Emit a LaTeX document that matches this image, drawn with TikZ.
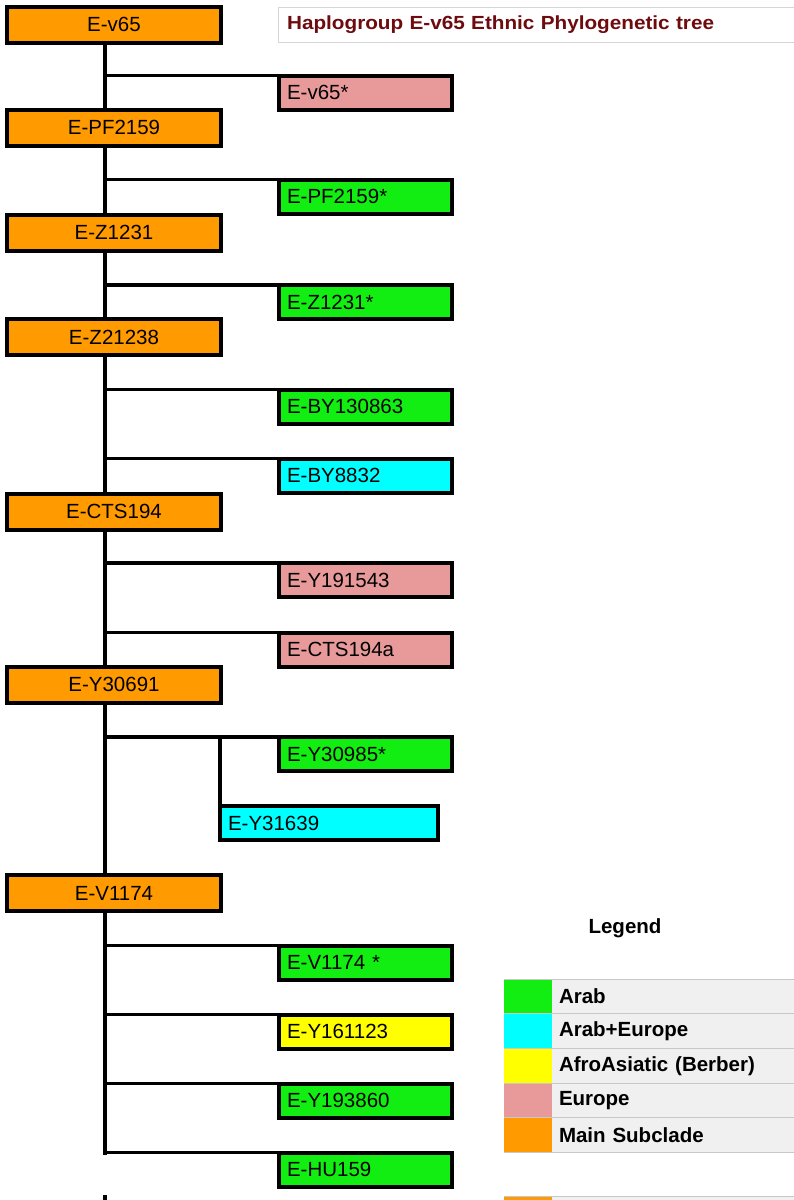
\documentclass[tikz,border=0pt]{standalone}
\usepackage{fontspec}
\setmainfont{Liberation Sans}
\newfontfamily\titlefont[FakeStretch=1.09]{Liberation Sans}
\usepackage{xcolor}
\usepackage{tikz}
\usetikzlibrary{positioning}
\definecolor{subclade}{HTML}{FF9A00}
\definecolor{arab}{HTML}{12EE12}
\definecolor{arabeurope}{HTML}{00FFFF}
\definecolor{berber}{HTML}{FFFF00}
\definecolor{europe}{HTML}{E89A9A}
\definecolor{titlered}{HTML}{6E0B0E}
\definecolor{titleborder}{HTML}{D6D6D6}
\definecolor{legendrow}{HTML}{F0F0F0}
\definecolor{legendline}{HTML}{C8C8C8}
\tikzset{
    mainclade/.style={
        draw=black, fill=subclade, line width=4pt, outer sep=0pt, inner sep=0pt,
        minimum width=214pt, minimum height=36pt,
        font=\fontsize{20.5}{24}\selectfont
    },
    leafclade/.style={
        draw=black, line width=4pt, outer sep=0pt, inner xsep=8pt, inner ysep=0pt,
        text width=157pt, minimum height=34pt, align=left,
        font=\fontsize{20.5}{24}\selectfont
    },
    titlebox/.style={
        draw=titleborder, fill=white, line width=1.2pt, anchor=west,
        minimum height=35pt, text width=520pt, inner xsep=8.5pt, align=left,
        text=titlered, font=\titlefont\bfseries\fontsize{19}{22}\selectfont
    },
    keybox/.style={minimum width=48pt, minimum height=34.6pt, inner sep=0pt, outer sep=0pt},
    keylabel/.style={
        fill=legendrow, minimum height=34.6pt, text width=236pt, inner xsep=7pt,
        inner ysep=0pt, outer sep=0pt, align=left,
        font=\fontsize{20.5}{24}\selectfont\bfseries
    },
    trunkline/.style={line width=4pt, line cap=rect, black},
    branchline/.style={line width=3.2pt, black},
    rowline/.style={line width=1pt, legendline},
}

\begin{document}
\begin{tikzpicture}[x=1pt, y=-1pt]
    \clip (0,0) rectangle (794,1200);
    \fill[white] (0,0) rectangle (794,1200);
    \node[titlebox] (title) at (278,25) {Haplogroup E-v65 Ethnic Phylogenetic tree};

    \node[mainclade] (v65) at (114,24.5) {E-v65};
    \node[mainclade] (pf2159) at (114,127.5) {E-PF2159};
    \node[mainclade] (z1231) at (114,232.5) {E-Z1231};
    \node[mainclade] (z21238) at (114,337) {E-Z21238};
    \node[mainclade] (cts194) at (114,511.5) {E-CTS194};
    \node[mainclade] (y30691) at (114,684.5) {E-Y30691};
    \node[mainclade] (v1174) at (114,893) {E-V1174};

    \node[leafclade, fill=europe] (v65x) at (365.5,92.5) {E-v65*};
    \node[leafclade, fill=arab] (pf2159x) at (365.5,196.5) {E-PF2159*};
    \node[leafclade, fill=arab] (z1231x) at (365.5,302) {E-Z1231*};
    \node[leafclade, fill=arab] (by130863) at (365.5,406.5) {E-BY130863};
    \node[leafclade, fill=arabeurope] (by8832) at (365.5,475.5) {E-BY8832};
    \node[leafclade, fill=europe] (y191543) at (365.5,580) {E-Y191543};
    \node[leafclade, fill=europe] (cts194a) at (365.5,649.5) {E-CTS194a};
    \node[leafclade, fill=arab] (y30985x) at (365.5,754) {E-Y30985*};
    \node[leafclade, fill=arabeurope, text width=202pt] (y31639) at (329,823) {E-Y31639};
    \node[leafclade, fill=arab] (v1174x) at (365.5,962.5) {E-V1174 *};
    \node[leafclade, fill=berber] (y161123) at (365.5,1031.5) {E-Y161123};
    \node[leafclade, fill=arab] (y193860) at (365.5,1100.5) {E-Y193860};
    \node[leafclade, fill=arab] (hu159) at (365.5,1169.5) {E-HU159};

    \coordinate (stem) at (105,0);
    \foreach \a/\b in {v65/pf2159, pf2159/z1231, z1231/z21238, z21238/cts194, cts194/y30691, y30691/v1174}
        \draw[trunkline] (stem |- \a.south) -- (stem |- \b.north);
    \draw[trunkline] (stem |- v1174.south) -- (stem |- hu159.north west);
    \foreach \n in {v65x, pf2159x, z1231x, by130863, by8832, y191543, cts194a, y30985x, v1174x, y161123, y193860, hu159}
        \draw[branchline] (stem |- \n.north west) -- (\n.north west);
    \draw[trunkline] (y30985x.north west -| y31639.north west) -- (y31639.north west);
    \coordinate (cut) at (105,1197);
    \draw[trunkline] (cut) -- ++(0,12);

    \node[font=\fontsize{20.5}{24}\selectfont\bfseries] (legend) at (625,928) {Legend};
    \foreach \c/\t [count=\i] in {arab/Arab, arabeurope/Arab+Europe, berber/AfroAsiatic (Berber), europe/Europe, subclade/Main Subclade} {
        \node[keybox, fill=\c] (key\i) at (528,{962+34.6*\i}) {};
        \node[keylabel, right=0pt of key\i] (lab\i) {\t};
        \draw[rowline] (key\i.north west) -- (lab\i.north east);
    }
    \draw[rowline] (key5.south west) -- (lab5.south east);
    \node[keybox, fill=subclade, anchor=north west] (key6) at (504,1196) {};
    \node[keylabel, right=0pt of key6] (lab6) {};
    \draw[rowline] (key6.north west) -- (lab6.north east);
\end{tikzpicture}
\end{document}
